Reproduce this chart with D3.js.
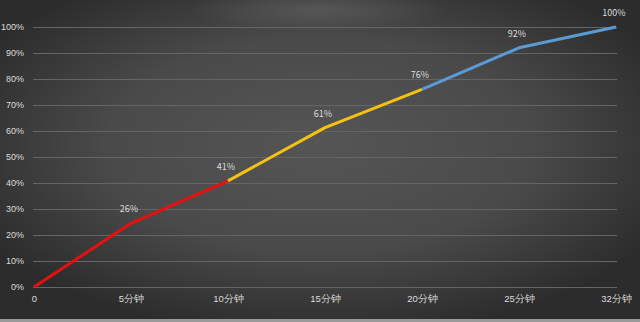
<!DOCTYPE html>
<html>
<head>
<meta charset="utf-8">
<script src="https://cdn.jsdelivr.net/npm/d3@7"></script>
<style>
  body { margin: 0; background: #3a3a3a; }
  svg { display: block; font-family: "Noto Sans CJK SC", "Noto Sans", sans-serif; }
</style>
</head>
<body>
<svg id="chart" width="640" height="322"></svg>
<script>
// data
const categories = ["0", "5分钟", "10分钟", "15分钟", "20分钟", "25分钟", "32分钟"];
const values = [0, 24.5, 40.8, 61.3, 76, 92, 100];
const labels = ["", "26%", "41%", "61%", "76%", "92%", "100%"];
const yTicks = [0, 10, 20, 30, 40, 50, 60, 70, 80, 90, 100];
// line segments: [from index, to index, colour]
const segments = [[0, 2, "#e8100e"], [2, 4, "#f5c211"], [4, 6, "#5b9bd5"]];

const WIDTH = 640;
const HEIGHT = 322;
const MARGIN = { left: 34, right: 24, top: 27, bottom: 35 };

const svg = d3.select("#chart");

// background
const defs = svg.append("defs");
const grad = defs.append("radialGradient").attr("id", "bg")
  .attr("cx", "50%").attr("cy", "45%").attr("r", "60%");
grad.append("stop").attr("offset", "0%").attr("stop-color", "#555555");
grad.append("stop").attr("offset", "55%").attr("stop-color", "#4a4a4a");
grad.append("stop").attr("offset", "100%").attr("stop-color", "#2c2c2c");
const glow = defs.append("radialGradient").attr("id", "glow");
glow.append("stop").attr("offset", "0%").attr("stop-color", "#5c5c5c").attr("stop-opacity", 0.8);
glow.append("stop").attr("offset", "100%").attr("stop-color", "#5c5c5c").attr("stop-opacity", 0);

svg.append("rect").attr("width", WIDTH).attr("height", HEIGHT).attr("fill", "url(#bg)");
svg.append("ellipse").attr("cx", 318).attr("cy", 10).attr("rx", 130).attr("ry", 22).attr("fill", "url(#glow)");
svg.append("rect").attr("x", 0).attr("y", 319).attr("width", WIDTH).attr("height", 3).attr("fill", "#9a9a9a");

const x = d3.scalePoint().domain(categories).range([MARGIN.left, WIDTH - MARGIN.right]);
const y = d3.scaleLinear().domain([0, 100]).range([HEIGHT - MARGIN.bottom, MARGIN.top]);

// gridlines
svg.append("g").selectAll("line")
  .data(yTicks)
  .join("line")
  .attr("x1", MARGIN.left - 1)
  .attr("x2", WIDTH - MARGIN.right + 1)
  .attr("y1", d => Math.round(y(d)) + 0.5)
  .attr("y2", d => Math.round(y(d)) + 0.5)
  .attr("stroke", "#656565")
  .attr("stroke-width", 1);

// y axis
const yAxis = svg.append("g")
  .attr("transform", `translate(${MARGIN.left - 10},0)`)
  .call(d3.axisLeft(y).tickValues(yTicks).tickSize(0).tickPadding(0).tickFormat(d => d + "%"));
yAxis.select(".domain").remove();
yAxis.selectAll("text").attr("fill", "#dcdcdc").style("font-size", "9px");

// x axis
const xAxis = svg.append("g")
  .attr("transform", `translate(0,${HEIGHT - MARGIN.bottom + 8})`)
  .call(d3.axisBottom(x).tickSize(0).tickPadding(0));
xAxis.select(".domain").remove();
xAxis.selectAll("text").attr("fill", "#dcdcdc").style("font-size", "9.5px");

// coloured line
const line = d3.line().x(d => x(d.c)).y(d => y(d.v));
const pts = categories.map((c, i) => ({ c: c, v: values[i] }));

svg.append("g").selectAll("path")
  .data(segments)
  .join("path")
  .attr("d", s => line(pts.slice(s[0], s[1] + 1)))
  .attr("fill", "none")
  .attr("stroke", s => s[2])
  .attr("stroke-width", 3)
  .attr("stroke-linejoin", "round");

// data labels
svg.append("g").selectAll("text")
  .data(pts.filter((d, i) => labels[i] !== ""))
  .join("text")
  .attr("x", d => x(d.c) - 2)
  .attr("y", d => y(d.v) - 11)
  .attr("text-anchor", "middle")
  .attr("fill", "#dcdcdc")
  .style("font-size", "9px")
  .text(d => labels[categories.indexOf(d.c)]);
</script>
</body>
</html>
